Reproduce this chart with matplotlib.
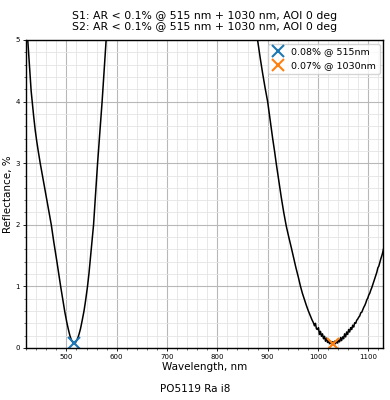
import matplotlib
matplotlib.use('Agg')

import matplotlib.pyplot as plt
from matplotlib.ticker import MultipleLocator

# === Data === #

title_text = 'S1: AR < 0.1% @ 515 nm + 1030 nm, AOI 0 deg\nS2: AR < 0.1% @ 515 nm + 1030 nm, AOI 0 deg'
footer_text = 'PO5119 Ra i8'

# wavelength, nm
wavelength = [
    420, 422, 424, 426, 428, 430, 432, 435, 438, 441, 444, 448, 452, 456, 460,
    465, 470, 475, 481, 485, 489, 493, 497, 501, 504, 507, 510, 513, 515, 517,
    519, 521, 523, 525, 528, 531, 535, 538, 542, 545, 548, 551, 554, 558, 562,
    566, 571, 575, 579, 583, 587,
    876, 880, 885, 890, 895, 900, 905, 910, 914, 917, 922, 927, 932, 937, 942,
    947, 952, 956, 961, 965, 969, 973, 977, 981, 985, 988, 991, 993, 995, 997,
    999, 1001, 1003, 1005, 1007, 1009, 1011, 1013, 1015, 1017, 1019, 1021,
    1023, 1025, 1027, 1029, 1031, 1033, 1035, 1037, 1039, 1041, 1043, 1045,
    1047, 1049, 1051, 1053, 1055, 1057, 1059, 1061, 1063, 1065, 1067, 1069,
    1071, 1073, 1075, 1077, 1079, 1081, 1083, 1085, 1087, 1089, 1091, 1093,
    1095, 1097, 1099, 1101, 1103, 1105, 1107, 1109, 1111, 1113, 1115, 1117,
    1119, 1121, 1123, 1125, 1127, 1129, 1130,
]

# reflectance, %
reflectance = [
    5.45, 5.15, 4.90, 4.63, 4.38, 4.17, 4.00, 3.76, 3.54, 3.36, 3.20, 3.00,
    2.82, 2.64, 2.46, 2.23, 2.00, 1.72, 1.41, 1.19, 0.98, 0.78, 0.58, 0.41,
    0.30, 0.20, 0.13, 0.09, 0.08, 0.085, 0.10, 0.13, 0.17, 0.22, 0.31, 0.43,
    0.60, 0.76, 1.00, 1.22, 1.48, 1.74, 2.00, 2.50, 3.00, 3.45, 4.00, 4.50,
    5.00, 5.50, 6.00,
    5.20, 5.00, 4.72, 4.46, 4.22, 4.00, 3.70, 3.40, 3.18, 3.00, 2.72, 2.45,
    2.20, 1.98, 1.80, 1.63, 1.45, 1.31, 1.15, 1.01, 0.89, 0.79, 0.69, 0.60,
    0.52, 0.46, 0.41, 0.36, 0.40, 0.31, 0.30, 0.33, 0.22, 0.27, 0.19, 0.23,
    0.15, 0.19, 0.11, 0.16, 0.09, 0.12, 0.07, 0.11, 0.06, 0.10, 0.07, 0.11,
    0.07, 0.12, 0.08, 0.13, 0.10, 0.17, 0.12, 0.18, 0.15, 0.23, 0.18, 0.26,
    0.22, 0.30, 0.26, 0.33, 0.30, 0.37, 0.34, 0.41, 0.40, 0.45, 0.47, 0.50,
    0.52, 0.57, 0.58, 0.62, 0.66, 0.69, 0.73, 0.78, 0.81, 0.86, 0.89, 0.94,
    0.98, 1.03, 1.08, 1.13, 1.18, 1.23, 1.30, 1.33, 1.39, 1.45, 1.50, 1.56,
    1.60,
]

# marked points
mark_wl = [515, 1030]
mark_r = [0.08, 0.07]
mark_labels = ['0.08% @ 515nm', '0.07% @ 1030nm']

x_ticks = [500, 600, 700, 800, 900, 1000, 1100]
y_ticks = [0, 1, 2, 3, 4, 5]

# === Plot === #

fig = plt.figure(figsize=(3.9, 4.0), dpi=100)
ax = fig.add_axes([0.067, 0.13, 0.916, 0.77])

ax.plot(wavelength, reflectance, color='black', linewidth=1.1)

for wl, r, lab in zip(mark_wl, mark_r, mark_labels):
    ax.plot(wl, r, 'x', markersize=8, markeredgewidth=1.5, label=lab)

ax.set_xlim(420, 1130)
ax.set_ylim(0, 5)
ax.set_xticks(x_ticks)
ax.set_yticks(y_ticks)
ax.xaxis.set_minor_locator(MultipleLocator(20))
ax.yaxis.set_minor_locator(MultipleLocator(0.2))

ax.grid(which='major', color='#b8b8b8', linewidth=0.8)
ax.grid(which='minor', color='#e4e4e4', linewidth=0.6)
ax.set_axisbelow(True)

ax.tick_params(which='major', labelsize=5, length=2.5, width=0.6, pad=2)
ax.tick_params(which='minor', length=1.5, width=0.4)
for s in ax.spines.values():
    s.set_linewidth(1.0)

ax.set_title(title_text, fontsize=7.8, pad=7)
ax.set_xlabel('Wavelength, nm', fontsize=7.5, labelpad=1)
ax.set_ylabel('Reflectance, %', fontsize=7.5, labelpad=2)

ax.legend(loc='upper right', fontsize=6.8, markerscale=1.1,
          handlelength=1.2, borderaxespad=0.4)

fig.text(0.5, 0.027, footer_text, ha='center', va='center', fontsize=7.5)

fig.savefig('out.png', dpi=100)
